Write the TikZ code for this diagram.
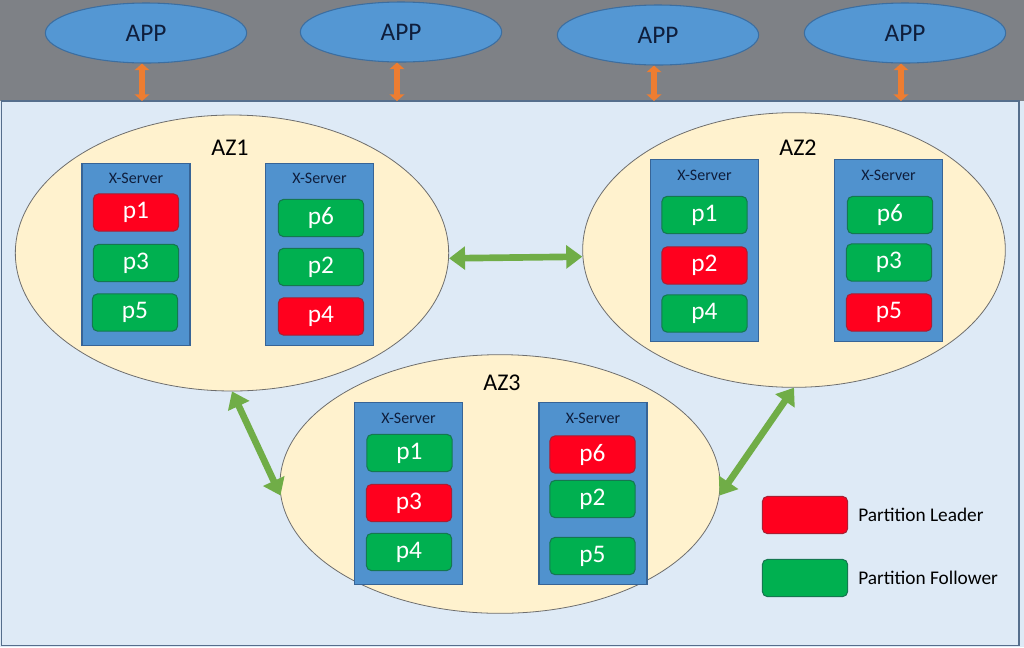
\documentclass[tikz,border=0pt]{standalone}
\usepackage{fontspec}
\setmainfont{Carlito}
\usetikzlibrary{arrows.meta,shapes.geometric,positioning}

\definecolor{topgray}{RGB}{126,129,134}
\definecolor{zoneblue}{RGB}{222,234,246}
\definecolor{zoneline}{RGB}{85,110,140}
\definecolor{appblue}{RGB}{84,151,211}
\definecolor{appline}{RGB}{60,110,160}
\definecolor{azfill}{RGB}{255,242,206}
\definecolor{azline}{RGB}{110,110,110}
\definecolor{srvfill}{RGB}{80,146,206}
\definecolor{srvline}{RGB}{55,100,150}
\definecolor{leadred}{RGB}{255,0,30}
\definecolor{leadline}{RGB}{170,30,50}
\definecolor{follgreen}{RGB}{0,176,80}
\definecolor{follline}{RGB}{20,120,80}
\definecolor{linkgreen}{RGB}{112,173,71}
\definecolor{linkorange}{RGB}{237,125,49}
\definecolor{navytext}{RGB}{15,30,60}

\tikzset{
  app/.style={ellipse, draw=appline, fill=appblue, line width=0.8pt,
    minimum width=151pt, minimum height=45pt, inner sep=0pt,
    font=\fontsize{19}{22}\selectfont, text=navytext},
  zone/.style={ellipse, draw=azline, fill=azfill, line width=0.6pt, inner sep=0pt},
  azlabel/.style={font=\fontsize{18}{21}\selectfont},
  server/.style={rectangle, draw=srvline, fill=srvfill, line width=0.8pt,
    minimum width=81pt, minimum height=137pt, inner sep=0pt},
  srvlabel/.style={font=\fontsize{12}{14}\selectfont, text=navytext},
  part/.style={rectangle, rounded corners=4pt, minimum width=64pt, minimum height=28pt,
    inner sep=0pt, line width=0.8pt, text=white, font=\fontsize{19}{22}\selectfont},
  leader/.style={part, fill=leadred, draw=leadline},
  follower/.style={part, fill=follgreen, draw=follline},
  orangelink/.style={draw=linkorange, fill=linkorange, line width=4.5pt,
    arrows={Triangle[width=11pt,length=5pt]-Triangle[width=11pt,length=5pt]}},
  greenlink/.style={draw=linkgreen, fill=linkgreen, line width=5pt,
    arrows={Triangle[width=17pt,length=12pt]-Triangle[width=17pt,length=12pt]}},
  legendtext/.style={font=\fontsize{14.5}{17}\selectfont}
}

\begin{document}
\begin{tikzpicture}[x=0.75pt,y=-0.75pt]
\useasboundingbox (0,0) rectangle (1024,647);

% background
\fill[topgray] (0,0) rectangle (1024,101);
\fill[zoneblue] (0,101) rectangle (1024,647);
\draw[zoneline, line width=1pt] (1.5,101) rectangle (1019,645.5);
\coordinate (zonetop) at (0,101);

% applications
\node[app] (app1) at (146,33) {APP};
\node[app] (app2) at (401,32) {APP};
\node[app] (app3) at (658,35) {APP};
\node[app] (app4) at (905,33) {APP};

\draw[orangelink] ([xshift=-3pt]app1.south) -- ([xshift=-3pt]app1.south |- zonetop);
\draw[orangelink] ([xshift=-3pt]app2.south) -- ([xshift=-3pt]app2.south |- zonetop);
\draw[orangelink] ([xshift=-3pt]app3.south) -- ([xshift=-3pt]app3.south |- zonetop);
\draw[orangelink] ([xshift=-3pt]app4.south) -- ([xshift=-3pt]app4.south |- zonetop);

% availability zones
\node[zone, minimum width=325pt, minimum height=207pt] (az1) at (232,253) {};
\node[zone, minimum width=317pt, minimum height=206pt] (az2) at (794,250) {};
\node[zone, minimum width=330pt, minimum height=194pt] (az3) at (500,484) {};
\node[azlabel] (az1label) at (230,148) {AZ1};
\node[azlabel] (az2label) at (798,148) {AZ2};
\node[azlabel] (az3label) at (502,383) {AZ3};

\draw[greenlink] ([yshift=-4pt]az1.east) -- ([yshift=-5pt]az2.west);
\draw[greenlink] (az1.south) -- (az3.183);
\draw[greenlink] (az2.south) -- (az3.357);

% AZ1 servers
\node[server] (s11) at (136,254.5) {};
\node[server] (s12) at (319.5,254.5) {};
\node[srvlabel] (s11label) at (136,178) {X-Server};
\node[srvlabel] (s12label) at (319.5,178) {X-Server};
\node[leader] (a1p1) at (136,212.5) {p1};
\node[follower] (a1p3) at (136,263) {p3};
\node[follower] (a1p5) at (135,312.5) {p5};
\node[follower] (a1p6) at (321,218) {p6};
\node[follower] (a1p2) at (321,267) {p2};
\node[leader] (a1p4) at (321,316.5) {p4};

% AZ2 servers
\node[server] (s21) at (704.5,250.5) {};
\node[server] (s22) at (888.5,250.5) {};
\node[srvlabel] (s21label) at (704.5,175) {X-Server};
\node[srvlabel] (s22label) at (888.5,175) {X-Server};
\node[follower] (a2p1) at (704.5,215) {p1};
\node[leader] (a2p2) at (704.5,265.5) {p2};
\node[follower] (a2p4) at (704.5,313.5) {p4};
\node[follower] (a2p6) at (890,215) {p6};
\node[follower] (a2p3) at (889,262.5) {p3};
\node[leader] (a2p5) at (889,312.5) {p5};

% AZ3 servers
\node[server] (s31) at (408.5,493.5) {};
\node[server] (s32) at (593,493.5) {};
\node[srvlabel] (s31label) at (408.5,418) {X-Server};
\node[srvlabel] (s32label) at (593,418) {X-Server};
\node[follower] (a3p1) at (409.5,453) {p1};
\node[leader] (a3p3) at (409,503) {p3};
\node[follower] (a3p4) at (409,552) {p4};
\node[leader] (a3p6) at (592.5,454.5) {p6};
\node[follower] (a3p2) at (592.5,499) {p2};
\node[follower] (a3p5) at (592.5,556) {p5};

% legend
\node[leader] (leadkey) at (805,515) {};
\node[legendtext, right=4pt of leadkey] (leadtext) {Partition Leader};
\node[follower] (follkey) at (805,578) {};
\node[legendtext, right=4pt of follkey] (folltext) {Partition Follower};
\end{tikzpicture}
\end{document}
